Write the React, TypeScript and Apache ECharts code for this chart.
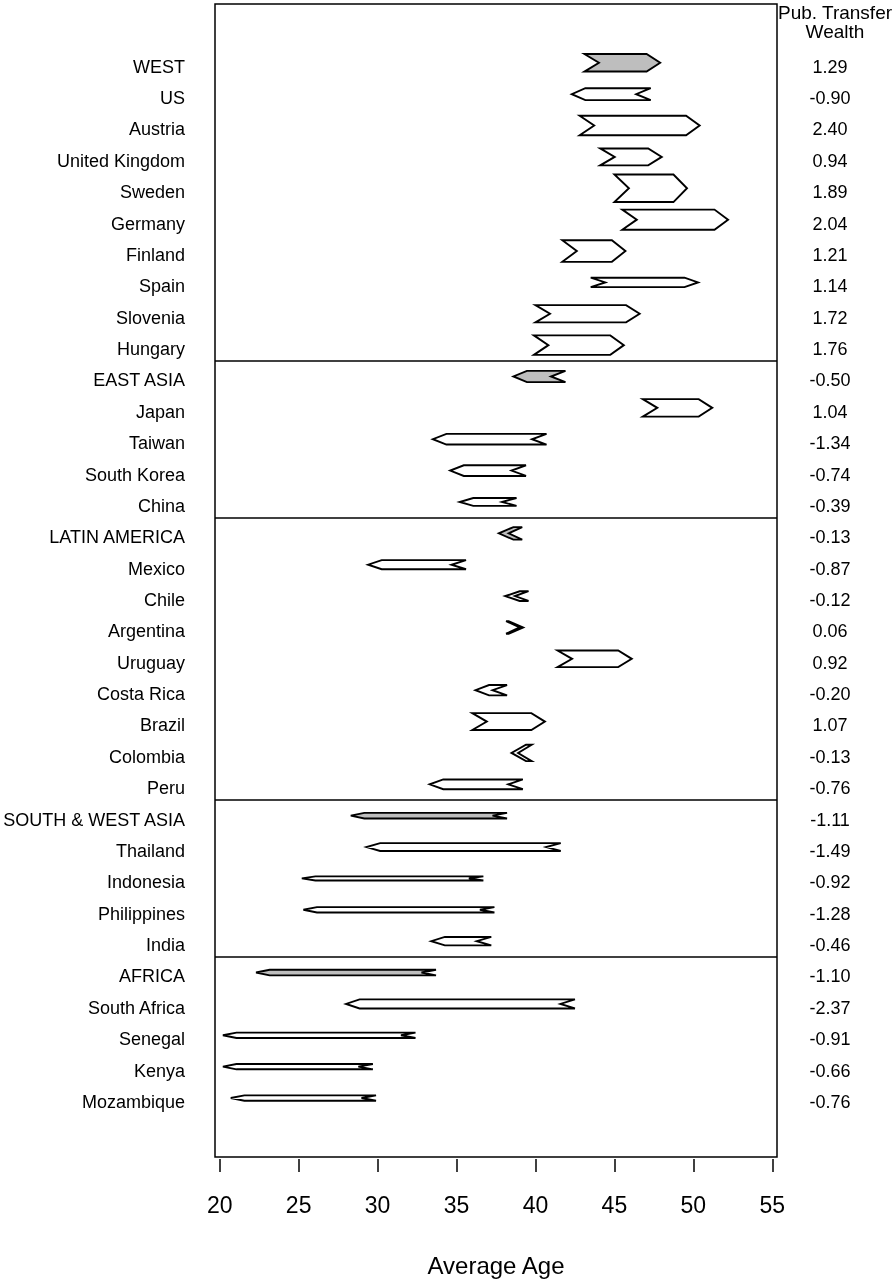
import React, { useEffect, useRef } from "react";
import * as echarts from "echarts";

const countries = [
  "WEST", "US", "Austria", "United Kingdom", "Sweden", "Germany", "Finland", "Spain", "Slovenia", "Hungary",
  "EAST ASIA", "Japan", "Taiwan", "South Korea", "China",
  "LATIN AMERICA", "Mexico", "Chile", "Argentina", "Uruguay", "Costa Rica", "Brazil", "Colombia", "Peru",
  "SOUTH & WEST ASIA", "Thailand", "Indonesia", "Philippines", "India",
  "AFRICA", "South Africa", "Senegal", "Kenya", "Mozambique",
];
const groupRows = ["WEST", "EAST ASIA", "LATIN AMERICA", "SOUTH & WEST ASIA", "AFRICA"];

// tail of each arrow (average age, start)
const startAge = [
  43.1, 47.3, 42.8, 44.1, 45.0, 45.5, 41.7, 43.5, 40.0, 39.9,
  41.9, 46.8, 40.7, 39.4, 38.8,
  38.6, 35.6, 39.0, 38.3, 41.4, 38.2, 36.0, 39.4, 39.2,
  38.2, 41.6, 36.7, 37.4, 37.2,
  33.7, 42.5, 32.4, 29.7, 29.9,
];
// head of each arrow (average age, end)
const endAge = [
  47.9, 42.3, 50.4, 48.0, 49.6, 52.2, 45.7, 50.3, 46.6, 45.6,
  38.6, 51.2, 33.5, 34.6, 35.2,
  38.3, 29.4, 38.7, 39.0, 46.1, 36.2, 40.6, 38.9, 33.3,
  28.3, 29.3, 25.2, 25.3, 33.4,
  22.3, 28.0, 20.2, 20.2, 20.7,
];
// arrow thickness (in row units)
const thickness = [
  0.56, 0.38, 0.62, 0.54, 0.88, 0.64, 0.69, 0.30, 0.55, 0.62,
  0.36, 0.56, 0.34, 0.34, 0.25,
  0.40, 0.29, 0.31, 0.40, 0.53, 0.33, 0.54, 0.52, 0.31,
  0.18, 0.25, 0.13, 0.17, 0.27,
  0.18, 0.29, 0.17, 0.17, 0.17,
];
const transferWealth = [
  1.29, -0.90, 2.40, 0.94, 1.89, 2.04, 1.21, 1.14, 1.72, 1.76,
  -0.50, 1.04, -1.34, -0.74, -0.39,
  -0.13, -0.87, -0.12, 0.06, 0.92, -0.20, 1.07, -0.13, -0.76,
  -1.11, -1.49, -0.92, -1.28, -0.46,
  -1.10, -2.37, -0.91, -0.66, -0.76,
];
const groupDividers = [9.5, 14.5, 23.5, 28.5];
const ageTicks = [20, 25, 30, 35, 40, 45, 50, 55];

const HEAD = 0.86;
const NOTCH = 0.92;
const Y_MIN = -1.874;
const Y_MAX = 34.88;
const LABEL_SHIFT = 0.125;
const FONT = "'Liberation Sans', Arial, Helvetica, sans-serif";

export default function App() {
  const ref = useRef<HTMLDivElement>(null);
  useEffect(() => {
    const chart = echarts.init(ref.current!, null, { renderer: "svg" });
    const rows = countries.map((_, i) => i);
    const data = countries.map((c, i) => ({
      value: [startAge[i], endAge[i], i, thickness[i]],
      itemStyle: { color: groupRows.includes(c) ? "#bebebe" : "#ffffff" },
    }));
    const renderItem = (params: any, api: any) => {
      const s = api.value(0);
      const e = api.value(1);
      const r = api.value(2);
      const t = api.value(3);
      const p0 = api.coord([s, r]);
      const p1 = api.coord([e, r]);
      const h = api.size([0, t])[1] / 2;
      const H = api.size([HEAD, 0])[0];
      const N = api.size([NOTCH, 0])[0];
      const d = e >= s ? 1 : -1;
      const y = p0[1];
      const points = [
        [p0[0], y - h],
        [p1[0] - d * H, y - h],
        [p1[0], y],
        [p1[0] - d * H, y + h],
        [p0[0], y + h],
        [p0[0] + d * N, y],
      ];
      return {
        type: "polygon",
        shape: { points },
        style: { fill: api.visual("color"), stroke: "#000", lineWidth: 1.9, lineJoin: "miter" },
      };
    };
    const yCommon = {
      type: "value",
      inverse: true,
      axisLine: { show: false },
      axisTick: { show: false },
      splitLine: { show: false },
    };
    chart.setOption({
      animation: false,
      grid: {
        left: 215,
        top: 4,
        width: 562,
        height: 1153,
        show: true,
        borderColor: "#000",
        borderWidth: 1.5,
        backgroundColor: "transparent",
        containLabel: false,
        outerBoundsMode: "none",
      },
      xAxis: {
        type: "value",
        min: 19.7,
        max: 55.3,
        offset: 2,
        axisLine: { show: false, onZero: false },
        splitLine: { show: false },
        axisTick: {
          show: true,
          customValues: ageTicks,
          length: 13,
          lineStyle: { color: "#000", width: 1.5 },
        },
        axisLabel: {
          customValues: ageTicks,
          margin: 34,
          fontSize: 23,
          color: "#000",
          fontFamily: FONT,
        },
        name: "Average Age",
        nameLocation: "middle",
        nameGap: 94,
        nameTextStyle: { fontSize: 24, color: "#000", fontFamily: FONT },
      },
      yAxis: [
        {
          ...yCommon,
          min: Y_MIN,
          max: Y_MAX,
          position: "left",
          axisLabel: { show: false },
        },
        {
          ...yCommon,
          min: Y_MIN - LABEL_SHIFT,
          max: Y_MAX - LABEL_SHIFT,
          position: "left",
          axisLabel: {
            customValues: rows,
            margin: 30,
            fontSize: 18,
            color: "#000",
            fontFamily: FONT,
            formatter: (v: number) => countries[Math.round(v)] ?? "",
          },
        },
        {
          ...yCommon,
          min: Y_MIN - LABEL_SHIFT,
          max: Y_MAX - LABEL_SHIFT,
          position: "right",
          axisLabel: {
            customValues: rows,
            margin: 53,
            align: "center",
            fontSize: 18,
            color: "#000",
            fontFamily: FONT,
            formatter: (v: number) => {
              const w = transferWealth[Math.round(v)];
              return w === undefined ? "" : w.toFixed(2);
            },
          },
        },
      ],
      graphic: [
        {
          type: "text",
          x: 835,
          y: 3,
          style: {
            text: "Pub. Transfer\nWealth",
            textAlign: "center",
            textVerticalAlign: "top",
            fontSize: 19,
            lineHeight: 19,
            fontFamily: FONT,
            fill: "#000",
          },
        },
      ],
      series: [
        {
          type: "custom",
          renderItem,
          data,
          clip: false,
          xAxisIndex: 0,
          yAxisIndex: 0,
          encode: { x: [0, 1], y: 2 },
        },
        {
          type: "line",
          data: [],
          xAxisIndex: 0,
          yAxisIndex: 0,
          markLine: {
            silent: true,
            symbol: ["none", "none"],
            label: { show: false },
            lineStyle: { color: "#000", width: 1.5, type: "solid" },
            data: groupDividers.map((v) => ({ yAxis: v })),
          },
        },
      ],
    });
    return () => chart.dispose();
  }, []);
  return <div ref={ref} style={{ position: "fixed", left: 0, top: 0, width: 895, height: 1280 }} />;
}
